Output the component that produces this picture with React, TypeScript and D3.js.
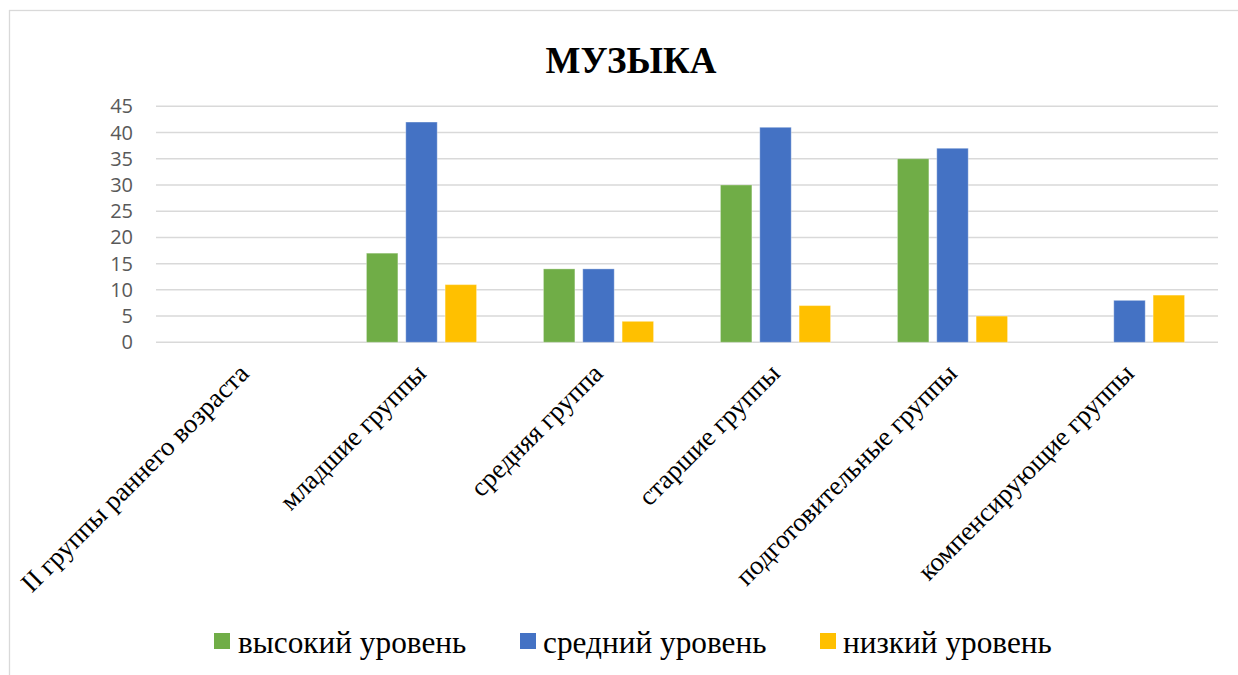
import React from "react";
import * as d3 from "d3";

const title = "МУЗЫКА";
const categories = [
  "II группы раннего возраста",
  "младшие группы",
  "средняя группа",
  "старшие группы",
  "подготовительные группы",
  "компенсирующие группы",
];
const seriesNames = ["высокий уровень", "средний уровень", "низкий уровень"];
const seriesColors = ["#70AD47", "#4472C4", "#FFC000"];
const highValues = [0, 17, 14, 30, 35, 0];
const midValues = [0, 42, 14, 41, 37, 8];
const lowValues = [0, 11, 4, 7, 5, 9];
const yTicks = [0, 5, 10, 15, 20, 25, 30, 35, 40, 45];

const W = 1238;
const H = 675;
const plot = { left: 156, right: 1218, top: 106.3, bottom: 342.3 };

export default function App() {
  const series = [highValues, midValues, lowValues];
  const x0 = d3.scaleBand<string>().domain(categories).range([plot.left, plot.right]).padding(0);
  const x1 = d3
    .scaleBand<number>()
    .domain([0, 1, 2])
    .range([0, x0.bandwidth()])
    .paddingInner(0.2)
    .paddingOuter(0.85);
  const y = d3.scaleLinear().domain([0, 45]).range([plot.bottom, plot.top]);

  const legendItems = [
    { sq: 214, tx: 238 },
    { sq: 520, tx: 543 },
    { sq: 820, tx: 843 },
  ];

  return (
    <svg
      width={W}
      height={H}
      style={{ position: "absolute", left: 0, top: 0, background: "#fff" }}
    >
      <rect x={9.5} y={10.5} width={W + 20} height={H + 20} fill="#fff" stroke="#d9d9d9" strokeWidth={1.3} />
      <text
        x={631}
        y={73}
        textAnchor="middle"
        fontFamily="'Liberation Serif', 'Times New Roman', serif"
        fontWeight="bold"
        fontSize={37}
        fill="#000"
      >
        {title}
      </text>
      {yTicks.map((t) => (
        <g key={t}>
          <line x1={plot.left} x2={plot.right} y1={y(t)} y2={y(t)} stroke="#d9d9d9" strokeWidth={1.5} />
          <text
            x={133}
            y={y(t)}
            dy="0.35em"
            textAnchor="end"
            fontFamily="'Open Sans', 'Noto Sans', sans-serif"
            fontSize={20}
            fill="#595959"
          >
            {t}
          </text>
        </g>
      ))}
      {categories.map((c, ci) => (
        <g key={c} transform={`translate(${x0(c)},0)`}>
          {series.map((vals, si) =>
            vals[ci] > 0 ? (
              <rect
                key={si}
                x={x1(si)}
                y={y(vals[ci])}
                width={x1.bandwidth()}
                height={y(0) - y(vals[ci])}
                fill={seriesColors[si]}
                stroke="#ffffff"
                strokeOpacity={0.35}
                strokeWidth={1}
              />
            ) : null
          )}
        </g>
      ))}
      {categories.map((c) => {
        const cx = (x0(c) as number) + x0.bandwidth() / 2 + 6;
        return (
          <text
            key={c}
            transform={`translate(${cx},375) rotate(-45)`}
            textAnchor="end"
            fontFamily="'Liberation Serif', 'Times New Roman', serif"
            fontSize={26.8}
            fill="#000"
          >
            {c}
          </text>
        );
      })}
      {seriesNames.map((n, i) => (
        <g key={n}>
          <rect x={legendItems[i].sq} y={633} width={16} height={16} fill={seriesColors[i]} />
          <text
            x={legendItems[i].tx}
            y={653}
            fontFamily="'Liberation Serif', 'Times New Roman', serif"
            fontSize={31.3}
            fill="#000"
          >
            {n}
          </text>
        </g>
      ))}
    </svg>
  );
}
